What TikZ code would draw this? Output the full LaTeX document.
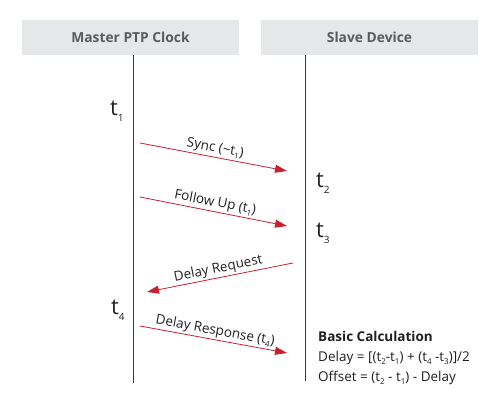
\documentclass[tikz,border=0pt]{standalone}
\usepackage{fontspec}
\setmainfont{Open Sans}
\usetikzlibrary{arrows.meta}

\definecolor{headgray}{HTML}{E6E7E8}
\definecolor{headtext}{HTML}{5A5B5D}
\definecolor{msgred}{HTML}{C8202F}
\definecolor{linegray}{HTML}{3A3A3A}
\definecolor{ink}{HTML}{231F20}
\newcommand{\tsub}[2][8]{\raisebox{-0.45ex}{\fontsize{#1}{#1}\selectfont #2}}

\begin{document}
\begin{tikzpicture}[x=1pt, y=-1pt,
                    head/.style={fill=headgray, minimum width=217pt, minimum height=35pt,
                                 inner sep=0pt, font=\fontsize{13.8}{15}\selectfont\bfseries, text=headtext},
                    life/.style={linegray, line width=0.9pt},
                    msg/.style={msgred, line width=0.8pt, -{Triangle[length=12pt,width=8pt]}},
                    lbl/.style={above, sloped, inner sep=1.5pt, text=ink, font=\fontsize{13.5}{15}\selectfont},
                    time/.style={anchor=base west, inner sep=0pt, text=ink, font=\fontsize{22}{24}\selectfont}]

    \useasboundingbox (0,0) rectangle (499,409);

    \node[head] (master) at (130.5,37.5) {Master PTP Clock};
    \node[head] (slave)  at (369.5,37.5) {Slave Device};

    \coordinate (m top) at (133,55);
    \coordinate (m bot) at (133,383);
    \coordinate (s top) at (305,55);
    \coordinate (s bot) at (305,381);
    \draw[life] (m top) -- (m bot);
    \draw[life] (s top) -- (s bot);

    \node[time] (t1) at (110,116) {t\tsub[10]{1}};
    \node[time] (t2) at (316,188) {t\tsub[10]{2}};
    \node[time] (t3) at (316,238) {t\tsub[10]{3}};
    \node[time] (t4) at (111,315) {t\tsub[10]{4}};

    \coordinate (sync a)  at (140,143);
    \coordinate (sync b)  at (287,171);
    \coordinate (fol a)   at (140,197);
    \coordinate (fol b)   at (287,226);
    \coordinate (req a)   at (293,263);
    \coordinate (req b)   at (147,292);
    \coordinate (resp a)  at (140,326);
    \coordinate (resp b)  at (287,353);

    \draw[msg] (sync a) -- node[lbl] {Sync (\textasciitilde t\tsub{1})} (sync b);
    \draw[msg] (fol a)  -- node[lbl] {Follow Up (t\tsub{1})} (fol b);
    \draw[msg] (req a)  -- node[lbl] {Delay Request} (req b);
    \draw[msg] (resp a) -- node[lbl] {Delay Response (t\tsub{4})} (resp b);

    \node[anchor=north west, align=left, inner sep=0pt, text=ink,
          font=\fontsize{13.5}{20}\selectfont] (calc) at (318,331)
        {\textbf{Basic Calculation}\\
         Delay = [(t\tsub{2}-t\tsub{1}) + (t\tsub{4} -t\tsub{3})]/2\\
         Offset = (t\tsub{2} - t\tsub{1}) - Delay};
\end{tikzpicture}
\end{document}
